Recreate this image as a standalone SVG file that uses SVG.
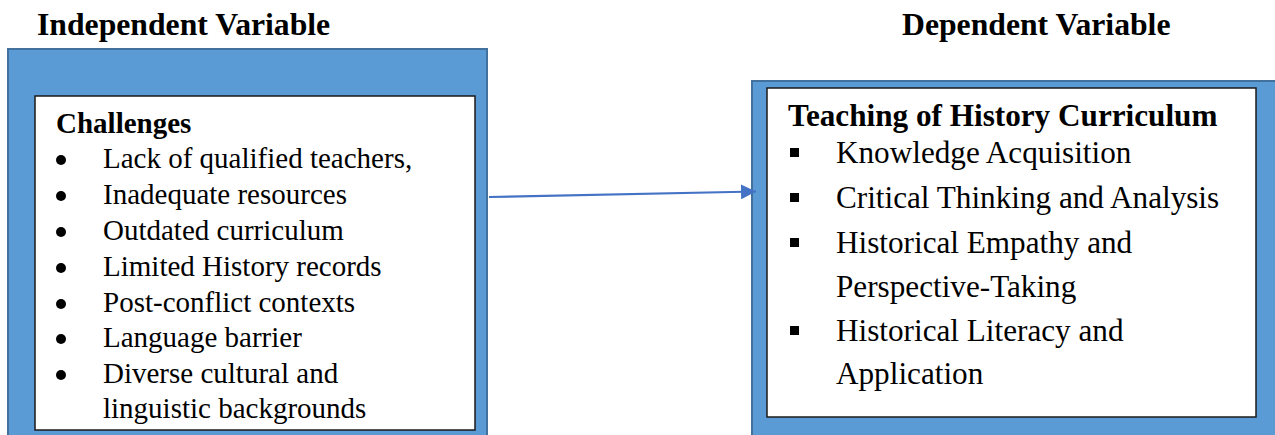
<svg xmlns="http://www.w3.org/2000/svg" width="1275" height="435" viewBox="0 0 1275 435">
<style>
.t{font-family:"Liberation Serif","Times New Roman",serif;fill:#000}
.title{font-size:31.7px;font-weight:bold}
.lh{font-size:29px;font-weight:bold}
.li{font-size:29px}
.rh{font-size:31.2px;font-weight:bold}
.ri{font-size:31.2px}
.outer{fill:#5B9BD5;stroke:#41719C;stroke-width:2}
.inner{fill:#fff;stroke:#1a1a1a;stroke-width:1.5}
.conn{stroke:#4472C4;stroke-width:2.2;fill:none}
</style>
<defs>
<marker id="ah" markerWidth="16" markerHeight="15" refX="15" refY="7.5" orient="auto" markerUnits="userSpaceOnUse">
<path d="M0,0 L15,7.5 L0,15 Z" fill="#4472C4"/>
</marker>
<clipPath id="lclip"><rect x="35" y="96" width="440" height="329"/></clipPath>
</defs>
<rect width="1275" height="435" fill="#fff"/>
<text class="t title" x="37" y="35">Independent Variable</text>
<text class="t title" x="902" y="35">Dependent Variable</text>
<g id="independent">
<rect class="outer" x="8" y="49" width="479" height="390"/>
<rect class="inner" x="35" y="96" width="440" height="334"/>
<g clip-path="url(#lclip)">
<text class="t lh" x="56" y="133">Challenges</text>
<g fill="#000">
<circle cx="61" cy="160" r="5"/>
<circle cx="61" cy="196" r="5"/>
<circle cx="61" cy="232" r="5"/>
<circle cx="61" cy="268" r="5"/>
<circle cx="61" cy="304" r="5"/>
<circle cx="61" cy="339" r="5"/>
<circle cx="61" cy="375" r="5"/>
</g>
<text class="t li" x="103" y="168">Lack of qualified teachers,</text>
<text class="t li" x="103" y="204">Inadequate resources</text>
<text class="t li" x="103" y="240">Outdated curriculum</text>
<text class="t li" x="103" y="276">Limited History records</text>
<text class="t li" x="103" y="312">Post-conflict contexts</text>
<text class="t li" x="103" y="347">Language barrier</text>
<text class="t li" x="103" y="383">Diverse cultural and</text>
<text class="t li" x="103" y="418">linguistic backgrounds</text>
</g>
</g>
<g id="dependent">
<rect class="outer" x="752" y="81" width="540" height="370"/>
<rect class="inner" x="767" y="88" width="489" height="329"/>
<text class="t rh" x="788" y="126">Teaching of History Curriculum</text>
<g fill="#000">
<rect x="790" y="148" width="9" height="9"/>
<rect x="790" y="193" width="9" height="9"/>
<rect x="790" y="238" width="9" height="9"/>
<rect x="790" y="326" width="9" height="9"/>
</g>
<text class="t ri" x="836" y="163">Knowledge Acquisition</text>
<text class="t ri" x="836" y="208">Critical Thinking and Analysis</text>
<text class="t ri" x="836" y="253">Historical Empathy and</text>
<text class="t ri" x="836" y="297">Perspective-Taking</text>
<text class="t ri" x="836" y="341">Historical Literacy and</text>
<text class="t ri" x="836" y="384">Application</text>
</g>
<g id="connectors">
<line class="conn" x1="489" y1="197" x2="756" y2="191.5" marker-end="url(#ah)"/>
</g>
</svg>
